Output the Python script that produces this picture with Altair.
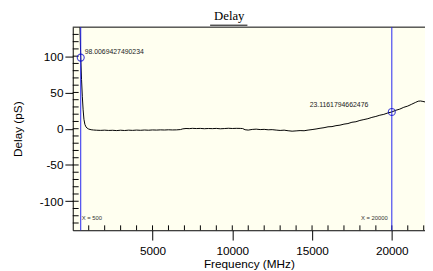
import altair as alt
import pandas as pd

# ---- data ----
freq = [380, 450, 500, 550, 600, 650, 700, 760, 830, 900, 1000, 1150, 1300, 1500,
        1750, 2000, 2250, 2500, 2750, 3000, 3250, 3500, 3750, 4000, 4250, 4500,
        4750, 5000, 5250, 5500, 5750, 6000, 6250, 6500, 6750, 6900, 7100, 7300,
        7500, 7750, 8000, 8250, 8500, 8750, 9000, 9250, 9500, 9750, 10000, 10250,
        10500, 10650, 10800, 11000, 11250, 11500, 11750, 12000, 12250, 12500,
        12750, 13000, 13250, 13500, 13750, 14000, 14250, 14500, 14750, 15000,
        15250, 15500, 15750, 16000, 16250, 16500, 16750, 17000, 17250, 17500,
        17750, 18000, 18250, 18500, 18750, 19000, 19250, 19500, 19750, 20000,
        20250, 20500, 20750, 21000, 21250, 21500, 21650, 21800, 21950, 22100]
delay = [190, 140, 98, 68, 44, 26, 13, 6, 2.5, 0.8, -0.5, -1.4, -1.8, -2.1,
         -2.3, -2.0, -2.4, -2.2, -2.6, -2.1, -2.5, -2.0, -2.3, -1.9, -2.2, -1.8,
         -2.1, -1.7, -1.9, -1.6, -1.8, -1.5, -1.7, -1.6, -1.2, -0.2, 0.3, 0.1,
         0.5, 0.2, 0.4, 0.0, 0.3, 0.1, 0.4, -0.1, 0.2, 0.6, 0.3, 0.5,
         0.4, 0.2, -1.4, -1.9, -1.0, -0.6, -1.2, -0.9, -1.5, -1.3,
         -1.9, -2.4, -2.0, -2.8, -3.4, -3.0, -2.6, -2.8, -1.9, -1.2,
         -0.4, 0.6, 1.4, 2.6, 2.9, 4.2, 4.9, 6.3, 7.1, 8.9,
         9.6, 11.4, 12.6, 13.8, 15.6, 16.9, 18.6, 19.8, 21.7, 23.1,
         25.4, 27.0, 29.5, 31.2, 33.8, 36.4, 37.9, 38.2, 37.6, 36.8]

cursor_freq = [500, 20000]
cursor_delay = [98.0069427490234, 23.1161794662476]
cursor_text = ["98.0069427490234", "23.1161794662476"]
cursor_names = ["X = 500", "X = 20000"]

x_major = [5000, 10000, 15000, 20000]
y_major = [-100, -50, 0, 50, 100]
x_minor = list(range(1000, 22001, 1000))
y_minor = list(range(-130, 131, 10))

X_DOMAIN = [0, 22080]
Y_DOMAIN = [-140, 140]
W, H = 359, 207

xs = alt.Scale(domain=X_DOMAIN, nice=False, zero=False)
ys = alt.Scale(domain=Y_DOMAIN, nice=False, zero=False)
x_axis = alt.Axis(values=x_major, title="Frequency (MHz)", format="d", tickSize=10,
                  labelPadding=6, titlePadding=2)
y_axis = alt.Axis(values=y_major, title="Delay (pS)", labelExpr="'' + datum.value",
                  tickSize=8, labelPadding=2, titlePadding=15)


def X():
    return alt.X("f:Q", scale=xs, axis=x_axis)


def Y():
    return alt.Y("d:Q", scale=ys, axis=y_axis)


curve_df = pd.DataFrame({"f": freq, "d": delay})
cur_df = pd.DataFrame({"f": cursor_freq, "d": cursor_delay,
                       "t": cursor_text, "n": cursor_names})

line = alt.Chart(curve_df).mark_line(color="black", strokeWidth=1, clip=True).encode(
    x=X(), y=Y())

xminor = alt.Chart(pd.DataFrame({"f": x_minor})).mark_rule(color="black").encode(
    x=X(), y=alt.value(H), y2=alt.value(H - 5))
yminor = alt.Chart(pd.DataFrame({"d": y_minor})).mark_rule(color="black").encode(
    y=Y(), x=alt.value(0), x2=alt.value(6))

top_border = alt.Chart(pd.DataFrame({"a": [0]})).mark_rule(color="black").encode(
    x=alt.value(0), x2=alt.value(W), y=alt.value(0))
underline = alt.Chart(pd.DataFrame({"a": [0]})).mark_rule(color="black").encode(
    x=alt.value(140), x2=alt.value(178), y=alt.value(-2))

vlines = alt.Chart(cur_df).mark_rule(color="#2424F0", strokeWidth=1).encode(x=X())
circles = alt.Chart(cur_df).mark_point(shape="circle", size=50, filled=False,
                                       color="#0000CC", strokeWidth=1.2).encode(
    x=X(), y=Y())

lbl_l = alt.Chart(cur_df.iloc[[0]]).mark_text(
    align="left", baseline="middle", dx=4, dy=-6, fontSize=7,
    font="Liberation Sans", color="#222222").encode(x=X(), y=Y(), text="t:N")
lbl_r = alt.Chart(cur_df.iloc[[1]]).mark_text(
    align="right", baseline="middle", dx=-24, dy=-7, fontSize=7,
    font="Liberation Sans", color="#222222").encode(x=X(), y=Y(), text="t:N")

name_l = alt.Chart(cur_df.iloc[[0]]).mark_text(
    align="left", baseline="middle", dx=1, fontSize=6,
    font="Liberation Sans", color="#333333").encode(x=X(), y=alt.value(195), text="n:N")
name_r = alt.Chart(cur_df.iloc[[1]]).mark_text(
    align="right", baseline="middle", dx=-4, fontSize=6,
    font="Liberation Sans", color="#333333").encode(x=X(), y=alt.value(195), text="n:N")

chart = alt.layer(
    line, xminor, yminor, top_border, underline, vlines, circles,
    lbl_l, lbl_r, name_l, name_r
).properties(
    width=W, height=H,
    title=alt.TitleParams("Delay", font="Liberation Serif", fontSize=13,
                          fontWeight="normal", color="black", dx=-20, offset=2),
    autosize=alt.AutoSizeParams(type="none"),
    padding={"left": 66, "top": 17, "right": 0, "bottom": 39},
).configure_view(
    fill="#FFFFF0", stroke=None
).configure_axis(
    grid=False, labelFont="Liberation Sans", labelFontSize=12, labelColor="black",
    titleFont="Liberation Sans", titleFontSize=12, titleFontWeight="normal",
    titleColor="black", domainColor="black", tickColor="black",
)

chart.save("out.html", embed_options={"renderer": "svg", "actions": False})
